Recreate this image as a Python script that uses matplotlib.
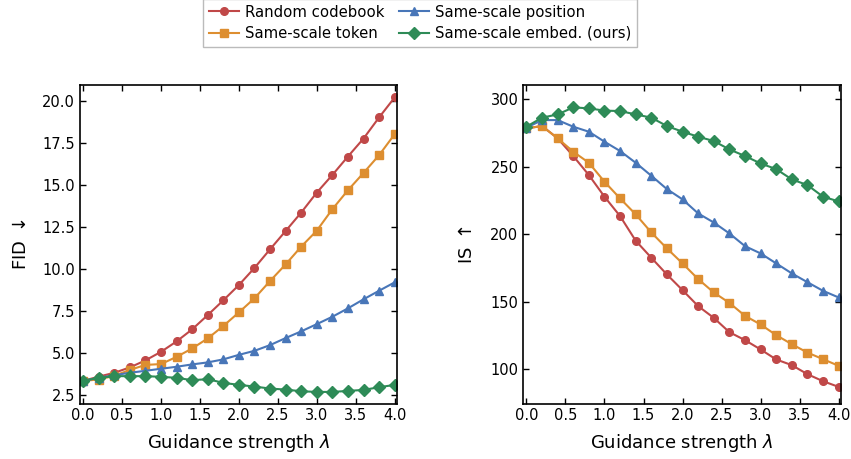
import matplotlib
matplotlib.use("Agg")
import matplotlib.pyplot as plt
import numpy as np

lam = [0.0, 0.2, 0.4, 0.6, 0.8, 1.0, 1.2, 1.4, 1.6, 1.8, 2.0,
       2.2, 2.4, 2.6, 2.8, 3.0, 3.2, 3.4, 3.6, 3.8, 4.0]

fid_random = [3.35, 3.60, 3.83, 4.15, 4.57, 5.08, 5.70, 6.42, 7.27, 8.15, 9.06,
              10.08, 11.19, 12.28, 13.38, 14.57, 15.62, 16.72, 17.79, 19.05, 20.24]
fid_token = [3.35, 3.43, 3.65, 4.00, 4.30, 4.35, 4.78, 5.28, 5.88, 6.62, 7.43,
             8.27, 9.30, 10.29, 11.35, 12.30, 13.58, 14.71, 15.74, 16.80, 18.05]
fid_position = [3.35, 3.53, 3.69, 3.83, 3.95, 4.07, 4.19, 4.33, 4.45, 4.63, 4.90,
                5.14, 5.48, 5.90, 6.30, 6.73, 7.17, 7.67, 8.21, 8.72, 9.22]
fid_embed = [3.35, 3.53, 3.63, 3.63, 3.63, 3.59, 3.53, 3.39, 3.45, 3.23, 3.11,
             3.01, 2.89, 2.83, 2.73, 2.69, 2.69, 2.75, 2.81, 2.97, 3.11]

is_random = [278.3, 280.0, 270.9, 257.8, 243.7, 227.7, 213.3, 195.1, 182.5, 170.1, 158.5,
             146.7, 138.0, 127.4, 121.5, 114.6, 107.2, 103.0, 96.3, 91.1, 86.9]
is_token = [278.3, 280.0, 270.9, 261.0, 252.8, 238.8, 226.4, 214.6, 201.2, 189.4, 178.3,
            166.7, 156.8, 149.1, 139.5, 133.1, 125.2, 118.5, 112.3, 107.4, 102.5]
is_position = [278.8, 284.4, 284.4, 279.5, 275.8, 268.4, 261.5, 252.8, 243.2, 233.3, 225.7,
               215.3, 208.6, 200.5, 191.1, 185.7, 178.3, 170.9, 164.4, 158.0, 153.1]
is_embed = [279.5, 286.2, 288.6, 293.8, 293.1, 291.4, 291.1, 288.6, 286.2, 280.0, 275.8,
            272.1, 268.9, 262.7, 257.8, 252.3, 248.1, 240.5, 236.3, 227.7, 224.2]

labels = ["Random codebook", "Same-scale token", "Same-scale position", "Same-scale embed. (ours)"]
colors = ["#c04848", "#dd8e30", "#4876b8", "#2e8b57"]
markers = ["o", "s", "^", "D"]
msizes = [5.5, 5.5, 5.5, 6]

fig = plt.figure(figsize=(8.51, 4.59), dpi=100)
W, H = 851, 459
ax1 = fig.add_axes([80 / W, 1 - 403.5 / H, (397 - 80) / W, (403.5 - 84.7) / H])
ax2 = fig.add_axes([523.3 / W, 1 - 403.5 / H, (841 - 523.3) / W, (403.5 - 84.7) / H])

handles = []
for ax, series in ((ax1, [fid_random, fid_token, fid_position, fid_embed]),
                   (ax2, [is_random, is_token, is_position, is_embed])):
    for s, lab, c, m, ms in zip(series, labels, colors, markers, msizes):
        h, = ax.plot(lam, s, color=c, marker=m, markersize=ms, linewidth=1.5, label=lab)
        if ax is ax1:
            handles.append(h)
    ax.set_xlim(-0.04, 4.03)
    ax.set_xticks([0, 0.5, 1.0, 1.5, 2.0, 2.5, 3.0, 3.5, 4.0])
    ax.tick_params(direction="in", top=True, right=True, labelsize=10.5, length=4, width=1)
    for sp in ax.spines.values():
        sp.set_linewidth(1.2)
    ax.set_xlabel(r"Guidance strength $\lambda$", fontsize=13, labelpad=6)

ax1.set_ylim(2.0, 21.0)
ax1.set_yticks([2.5, 5.0, 7.5, 10.0, 12.5, 15.0, 17.5, 20.0])
ax1.set_yticklabels(["2.5", "5.0", "7.5", "10.0", "12.5", "15.0", "17.5", "20.0"])
ax1.set_ylabel("FID $\\downarrow$", fontsize=13, labelpad=9)
ax2.set_ylim(74.6, 310.6)
ax2.set_yticks([100, 150, 200, 250, 300])
ax2.set_ylabel("IS $\\uparrow$", fontsize=13, labelpad=10)

fig.legend(handles, labels, ncol=2,
           loc="upper center", bbox_to_anchor=(0.494, 1.003), fontsize=10.7,
           fancybox=False, edgecolor="#bbbbbb", handlelength=2.0,
           columnspacing=1.0, handletextpad=0.4, borderpad=0.4, labelspacing=0.42,
           borderaxespad=0.0, framealpha=1.0)

fig.savefig("out.png", dpi=100)
